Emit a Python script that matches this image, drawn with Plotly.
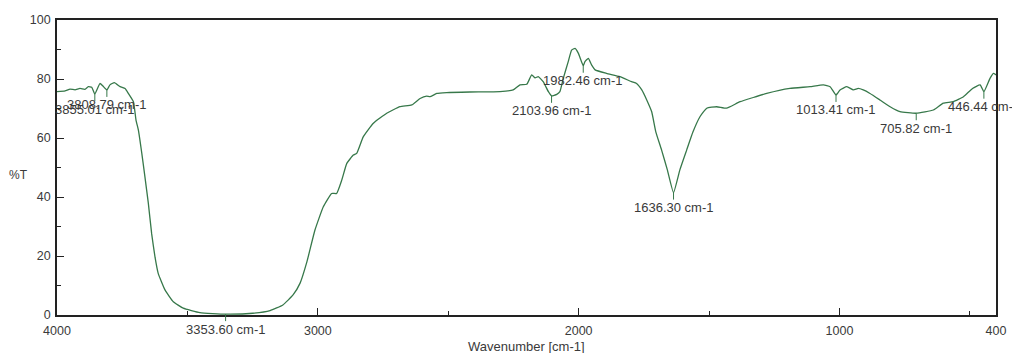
import plotly.graph_objects as go

# FT-IR transmittance spectrum (wavenumber in cm-1, transmittance in %T)
wavenumber = [
    4000, 3969, 3950, 3931, 3912, 3893, 3880, 3867, 3855.01, 3835, 3824, 3808.79,
    3797, 3780, 3758, 3739, 3727, 3707, 3697, 3688, 3675, 3663, 3650, 3637,
    3624, 3612, 3586, 3554, 3516, 3452, 3353.60, 3249, 3183, 3134, 3095, 3068,
    3042, 3011, 2979, 2947, 2928, 2908, 2889, 2864, 2851, 2826, 2787, 2736,
    2685, 2640, 2608, 2583, 2570, 2544, 2506, 2417, 2302, 2251, 2225, 2199,
    2180, 2167, 2155, 2136, 2116, 2103.96, 2084, 2072, 2059, 2040, 2027, 2014,
    2001, 1982.46, 1976, 1963, 1950, 1937, 1893, 1842, 1797, 1778, 1758, 1739,
    1720, 1704, 1682, 1660, 1636.30, 1612, 1586, 1562, 1535, 1509, 1471, 1433,
    1381, 1279, 1190, 1113, 1062, 1036, 1013.41, 998, 972, 947, 928, 909,
    883, 845, 806, 768, 705.82, 640, 602, 564, 525, 490, 461, 446.44,
    423, 410, 400,
]
transmittance = [
    75.7, 76.0, 76.6, 76.3, 76.8, 76.5, 77.4, 77.2, 74.9, 78.5, 77.6, 76.3,
    78.0, 78.8, 77.4, 76.8, 75.2, 72.3, 66.0, 62.7, 54.9, 46.9, 38.0, 27.5,
    19.5, 14.1, 8.5, 4.5, 2.3, 0.8, 0.3, 0.6, 1.5, 3.4, 6.8, 10.8,
    18.0, 28.8, 36.7, 41.2, 41.2, 45.8, 51.4, 54.2, 54.8, 60.4, 65.0, 68.4,
    70.6, 71.2, 73.4, 74.2, 74.0, 75.1, 75.4, 75.6, 75.7, 76.3, 78.0, 78.2,
    81.4, 80.4, 80.8, 79.1, 75.7, 74.3, 74.8, 75.7, 80.2, 85.9, 89.8, 90.4,
    88.7, 84.5, 85.9, 87.0, 84.7, 83.1, 81.9, 80.8, 79.1, 78.5, 76.3, 72.9,
    68.9, 62.0, 55.9, 49.2, 41.5, 49.2, 55.9, 62.0, 67.2, 70.1, 70.6, 70.1,
    72.3, 75.1, 76.8, 77.4, 78.0, 77.4, 74.6, 76.3, 77.4, 76.3, 76.8, 76.3,
    75.1, 72.9, 70.6, 68.9, 68.4, 69.5, 71.8, 72.3, 74.0, 76.8, 78.0, 75.7,
    80.2, 81.9, 81.4,
]

# Labelled peak positions
peak_wn = [3855.01, 3808.79, 3353.60, 2103.96, 1982.46, 1636.30, 1013.41, 705.82, 446.44]
peak_t = [74.9, 76.3, 0.3, 74.3, 84.5, 41.5, 74.6, 68.4, 75.7]

x_tick_vals = [4000, 3000, 2000, 1000, 400]
x_tick_text = ["4000", "3000", "2000", "1000", "400"]
x_minor_vals = [3500, 2500, 1500, 500]
y_tick_vals = [0, 20, 40, 60, 80, 100]

line_color = "#37784a"
text_color = "#3a3a3a"
font_family = "Liberation Sans, Arial, sans-serif"

fig = go.Figure()
fig.add_trace(go.Scatter(
    x=wavenumber, y=transmittance, mode="lines",
    line=dict(color=line_color, width=1.3, shape="spline", smoothing=0.4),
    hoverinfo="x+y", showlegend=False,
))

for wn, t in zip(peak_wn, peak_t):
    fig.add_annotation(
        x=wn, y=t, xref="x", yref="y",
        text=f"{wn:.2f} cm-1",
        showarrow=True, arrowhead=0, arrowwidth=1, arrowcolor=line_color,
        ax=0, ay=15, standoff=0,
        font=dict(family=font_family, size=13, color=text_color),
        borderpad=0,
    )

# axis titles placed in paper coordinates
fig.add_annotation(
    text="%T", xref="paper", yref="paper", x=-0.041, y=0.475,
    xanchor="center", yanchor="middle", showarrow=False,
    font=dict(family=font_family, size=12, color=text_color),
)
fig.add_annotation(
    text="Wavenumber [cm-1]", xref="paper", yref="paper", x=0.5, y=-0.107,
    xanchor="center", yanchor="middle", showarrow=False,
    font=dict(family=font_family, size=13, color=text_color),
)

axis_common = dict(
    showgrid=False, zeroline=False, automargin=False,
    showline=True, linecolor="#222222", linewidth=1.6, mirror=True,
    ticks="inside", tickcolor="#222222", tickwidth=1.2,
    tickfont=dict(family=font_family, size=12.5, color=text_color),
)

fig.update_layout(
    width=1012, height=353,
    margin=dict(l=57, r=16, t=20, b=38, autoexpand=False),
    paper_bgcolor="white", plot_bgcolor="white",
    xaxis=dict(
        range=[4000, 400], tickmode="array",
        tickvals=x_tick_vals, ticktext=x_tick_text, ticklen=7,
        minor=dict(tickmode="array", tickvals=x_minor_vals, ticks="inside",
                   ticklen=4, tickcolor="#222222", tickwidth=1.2),
        ticklabelstandoff=3,
        **axis_common,
    ),
    yaxis=dict(
        range=[0, 100], tickmode="array",
        tickvals=y_tick_vals, ticklen=7,
        minor=dict(dtick=10, tick0=0, ticks="inside",
                   ticklen=4, tickcolor="#222222", tickwidth=1.2),
        ticklabelstandoff=2,
        **axis_common,
    ),
)

fig.write_html("out.html")
